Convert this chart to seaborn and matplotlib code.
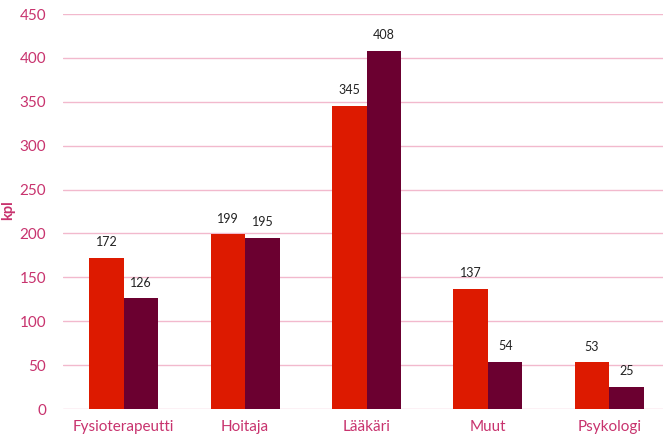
import matplotlib
matplotlib.use("Agg")
import matplotlib.pyplot as plt
import seaborn as sns
import pandas as pd

categories = ["Fysioterapeutti", "Hoitaja", "Lääkäri", "Muut", "Psykologi"]
series_names = ["Sarja 1", "Sarja 2"]
series_1 = [172, 199, 345, 137, 53]
series_2 = [126, 195, 408, 54, 25]
y_ticks = [0, 50, 100, 150, 200, 250, 300, 350, 400, 450]

df = pd.DataFrame({
    "ammatti": categories * 2,
    "sarja": [series_names[0]] * len(categories) + [series_names[1]] * len(categories),
    "kpl": series_1 + series_2,
})

sns.set_theme(style="white")
plt.rcParams["font.family"] = ["Lato", "DejaVu Sans"]

pink = "#C8336E"
grid_pink = "#F2B9CD"

fig = plt.figure(figsize=(6.63, 4.36), dpi=100)
ax = fig.add_axes([63 / 663, 1 - 409 / 436, 607 / 663, 395 / 436])

sns.barplot(data=df, x="ammatti", y="kpl", hue="sarja", order=categories,
            hue_order=series_names, palette=["#DD1A00", "#6B0030"],
            width=0.57, saturation=1, legend=False, linewidth=0,
            edgecolor="none", ax=ax, zorder=3)

ax.set_ylim(0, 450)
ax.set_yticks(y_ticks)
ax.set_xlim(-0.5, len(categories) - 0.5)
ax.grid(axis="y", color=grid_pink, linewidth=1.0, zorder=0)
ax.set_axisbelow(True)
for s in ax.spines.values():
    s.set_visible(False)

ax.tick_params(axis="y", colors=pink, labelsize=11, length=0, pad=12)
ax.tick_params(axis="x", colors=pink, labelsize=11, length=0, pad=8)
ax.set_xlabel("")
ax.set_ylabel("kpl", color=pink, fontsize=10.5, fontweight="bold")
ax.yaxis.set_label_coords(-0.079, 0.504)

for cont in ax.containers:
    ax.bar_label(cont, fmt="%d", padding=7, fontsize=9, color="#222222")

fig.savefig("out.png", dpi=100)
